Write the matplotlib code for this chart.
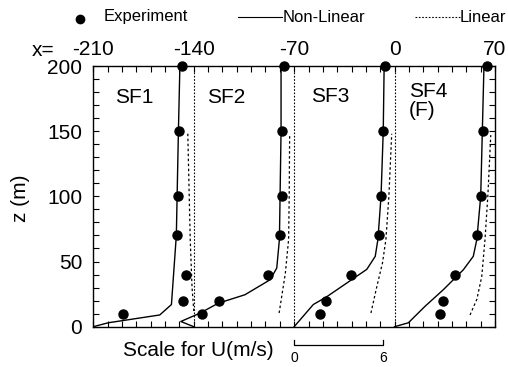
import matplotlib.pyplot as plt
from matplotlib.lines import Line2D
from matplotlib.ticker import MultipleLocator, FixedLocator
import numpy as np

plt.rcParams['font.family'] = ['Liberation Sans', 'DejaVu Sans']

# x-position of each station (m) and the U scale (x units per m/s)
stations = [-210, -140, -70, 0]
names = ['SF1', 'SF2', 'SF3', 'SF4\n(F)']
SCALE = 62 / 6.0

# experiment (same heights at every station)
z_exp = [200, 150, 100, 70, 40, 20, 10]
u_exp_sf1 = [5.98, 5.78, 5.74, 5.67, 6.25, 6.05, 1.99]
u_exp_sf2 = [6.10, 5.95, 5.95, 5.82, 5.03, 1.70, 0.54]
u_exp_sf3 = [6.13, 5.97, 5.84, 5.70, 3.85, 2.17, 1.74]
u_exp_sf4 = [6.21, 5.99, 5.81, 5.55, 4.06, 3.24, 3.07]

# non-linear model
z_nl_sf1 = [0, 3, 9, 17, 70, 150, 200]
u_nl_sf1 = [0, 1.0, 4.48, 5.27, 5.60, 5.74, 5.84]
z_nl_sf2 = [0, 4, 10.5, 18, 24.5, 36, 45, 67, 150, 200]
u_nl_sf2 = [0, -0.87, 0.44, 1.65, 3.45, 5.15, 5.6, 5.78, 5.89, 5.89]
z_nl_sf3 = [0, 17, 23, 44, 54, 67, 100, 150, 200]
u_nl_sf3 = [0, 1.29, 2.2, 4.90, 5.47, 5.65, 5.86, 6.01, 6.07]
z_nl_sf4 = [0, 3, 15.6, 28.4, 43.7, 54, 67, 100, 150, 200]
u_nl_sf4 = [0, 0.93, 2.05, 3.29, 4.64, 5.31, 5.55, 5.81, 5.92, 6.03]

# linear model
z_lin_sf1 = [12, 30, 66, 100, 150]
u_lin_sf1 = [6.78, 6.66, 6.54, 6.47, 6.37]
z_lin_sf2 = [10.5, 41, 67, 100, 148]
u_lin_sf2 = [5.76, 6.18, 6.40, 6.44, 6.47]
z_lin_sf3 = [10.5, 28, 49, 67, 100, 148]
u_lin_sf3 = [5.18, 5.52, 5.96, 6.19, 6.39, 6.58]
z_lin_sf4 = [9, 21, 38.5, 67, 100, 147]
u_lin_sf4 = [5.09, 5.55, 5.88, 6.10, 6.29, 6.49]

x_ticklabels = ['-210', '-140', '-70', '0', '70']

exp = [u_exp_sf1, u_exp_sf2, u_exp_sf3, u_exp_sf4]
nl = [(z_nl_sf1, u_nl_sf1), (z_nl_sf2, u_nl_sf2), (z_nl_sf3, u_nl_sf3), (z_nl_sf4, u_nl_sf4)]
lin = [(z_lin_sf1, u_lin_sf1), (z_lin_sf2, u_lin_sf2), (z_lin_sf3, u_lin_sf3), (z_lin_sf4, u_lin_sf4)]

fig = plt.figure(figsize=(5.08, 3.67), dpi=100)
ax = fig.add_axes([0.1837, 0.1098, 0.7907, 0.7103])

for i, x0 in enumerate(stations):
    if x0 != -210:
        ax.axvline(x0, color='black', ls=(0, (1.5, 1.5)), lw=0.8)
    z, u = nl[i]
    ax.plot(x0 + np.array(u) * SCALE, z, color='black', lw=1.0)
    z, u = lin[i]
    ax.plot(x0 + np.array(u) * SCALE, z, color='black', lw=0.9, ls=(0, (2, 2)))
    ax.plot(x0 + np.array(exp[i]) * SCALE, z_exp, 'o', color='black', ms=6.5,
            clip_on=False, zorder=5)

ax.set_xlim(-210, 70)
ax.set_ylim(0, 200)

ax.xaxis.tick_top()
ax.xaxis.set_major_locator(FixedLocator([-210, -140, -70, 0, 70]))
ax.xaxis.set_minor_locator(MultipleLocator(10))
ax.set_xticklabels(x_ticklabels, fontsize=15)
ax.yaxis.set_major_locator(MultipleLocator(50))
ax.yaxis.set_minor_locator(MultipleLocator(10))
ax.tick_params(axis='y', labelsize=15)
ax.tick_params(which='both', direction='in', length=4, width=0.8,
               top=True, bottom=True, left=True, right=True)
ax.tick_params(axis='x', pad=5)
ax.tick_params(axis='y', pad=8)
for s in ax.spines.values():
    s.set_linewidth(1.0)

ax.set_ylabel('z (m)', fontsize=15)
ax.yaxis.set_label_coords(30 / 508, 0.5, transform=fig.transFigure)
ax.yaxis.label.set_position((30 / 508, 1 - 198 / 367))

# station labels
label_pos = [(-195, 176), (-131, 176), (-58, 177), (10, 188)]
for (lx, lz), nm in zip(label_pos, names):
    ax.text(lx, lz, nm, fontsize=15, ha='left', va='top' if '\n' in nm else 'center',
            linespacing=1.05)

# x= label
fig.text(54 / 508, 1 - 50 / 367, 'x=', fontsize=15, va='center', ha='right')

# scale bar
x_end = -70 + 6 * SCALE
ax.plot([-70, -70, x_end, x_end], [-10, -13.8, -13.8, -10], color='black', lw=0.9,
        clip_on=False)
ax.text(-70, -24, '0', fontsize=10, ha='center', va='center', clip_on=False)
ax.text(x_end, -24, '6', fontsize=10, ha='center', va='center', clip_on=False)
fig.text(123 / 508, 1 - 350 / 367, 'Scale for U(m/s)', fontsize=15, ha='left', va='center')

# legend row
yl = 1 - 17 / 367
fig.add_artist(Line2D([80 / 508], [yl - 0.005], marker='o', color='black', ms=6, ls='none'))
fig.text(104 / 508, yl, 'Experiment', fontsize=12, va='center', ha='left')
fig.add_artist(Line2D([238 / 508, 282 / 508], [yl, yl], color='black', lw=0.8))
fig.text(283 / 508, yl, 'Non-Linear', fontsize=12, va='center', ha='left')
fig.add_artist(Line2D([415 / 508, 460 / 508], [yl, yl], color='black', lw=0.8,
                      ls=(0, (1.5, 1.5))))
fig.text(460 / 508, yl, 'Linear', fontsize=12, va='center', ha='left')

fig.savefig('out.png', dpi=100)
